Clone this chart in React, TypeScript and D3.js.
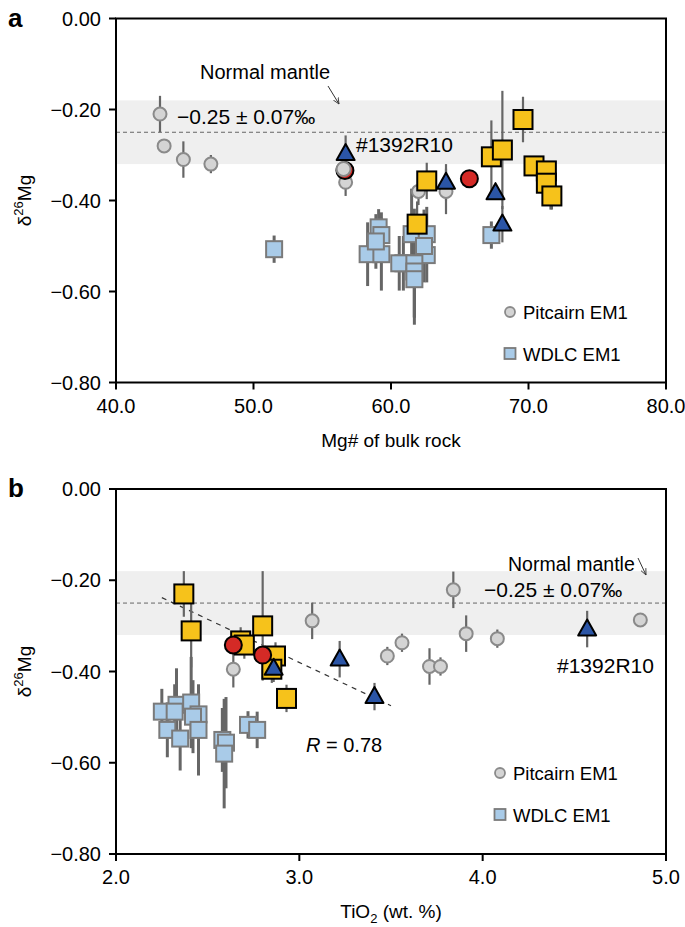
import React from "react";
import * as d3 from "d3";

// ---------- Panel a data (x: Mg# of bulk rock, y: δ26Mg, e: 2SD) ----------
const aPitX = [43.2, 43.5, 44.9, 46.9, 56.7, 62.0, 64.0, 71.6];
const aPitY = [-0.21, -0.28, -0.31, -0.32, -0.36, -0.38, -0.38, -0.39];
const aPitE = [0.04, 0.0, 0.04, 0.02, 0.03, 0.03, 0.05, 0.03];

const aWdX = [51.5, 59.1, 59.3, 58.3, 59.3, 58.9, 60.9, 61.5, 62.6, 62.6, 60.6, 61.7, 61.7, 61.7, 62.4, 67.3];
const aWdY = [-0.507, -0.459, -0.476, -0.518, -0.518, -0.49, -0.538, -0.474, -0.474, -0.52, -0.538, -0.538, -0.556, -0.573, -0.5, -0.476];
const aWdE = [0.03, 0.04, 0.05, 0.07, 0.08, 0.06, 0.06, 0.1, 0.06, 0.06, 0.06, 0.12, 0.1, 0.1, 0.08, 0.03];

const aRedX = [56.65, 65.7];
const aRedY = [-0.334, -0.352];

const aGreyOnRedX = [56.55];
const aGreyOnRedY = [-0.331];

const aYelX = [62.6, 61.9, 67.3, 68.1, 69.6, 70.4, 71.3, 71.3, 71.7];
const aYelY = [-0.357, -0.452, -0.304, -0.289, -0.222, -0.324, -0.335, -0.362, -0.39];
const aYelE = [0.04, 0.05, 0.08, 0.13, 0.05, 0.02, 0.02, 0.02, 0.03];

const aTriX = [56.7, 64.0, 67.6, 68.1];
const aTriY = [-0.297, -0.36, -0.383, -0.452];
const aTriE = [0.04, 0.04, 0.0, 0.04];

// ---------- Panel b data (x: TiO2 wt.%) ----------
const bPitX = [3.84, 3.07, 3.48, 3.56, 3.71, 3.77, 3.91, 4.08, 4.86, 2.64];
const bPitY = [-0.221, -0.289, -0.366, -0.337, -0.389, -0.389, -0.317, -0.328, -0.287, -0.395];
const bPitE = [0.04, 0.04, 0.02, 0.02, 0.04, 0.02, 0.04, 0.02, 0.0, 0.04];

const bWdX = [2.25, 2.33, 2.32, 2.28, 2.35, 2.41, 2.45, 2.42, 2.45, 2.58, 2.6, 2.59, 2.72, 2.77];
const bWdY = [-0.488, -0.473, -0.488, -0.528, -0.547, -0.468, -0.494, -0.499, -0.528, -0.55, -0.556, -0.58, -0.517, -0.528];
const bWdE = [0.05, 0.08, 0.06, 0.06, 0.07, 0.1, 0.06, 0.08, 0.1, 0.07, 0.1, 0.12, 0.03, 0.04];

const bRedX = [2.64, 2.8];
const bRedY = [-0.342, -0.364];

const bYelX = [2.37, 2.41, 2.68, 2.7, 2.8, 2.87, 2.85, 2.93];
const bYelY = [-0.23, -0.311, -0.333, -0.342, -0.3, -0.366, -0.395, -0.459];
const bYelE = [0.05, 0.08, 0.03, 0.03, 0.12, 0.03, 0.03, 0.03];

const bTriX = [4.57, 3.22, 3.41, 2.86];
const bTriY = [-0.307, -0.373, -0.455, -0.393];
const bTriE = [0.04, 0.04, 0.03, 0.03];

const bFitX = [2.25, 3.5];
const bFitY = [-0.238, -0.475];

const yTicks = [0, -0.2, -0.4, -0.6, -0.8];
const aXTicks = [40, 50, 60, 70, 80];
const bXTicks = [2, 3, 4, 5];

const mantleMean = -0.25;
const mantleSd = 0.07;

const FONT = "'Liberation Sans', Arial, Helvetica, sans-serif";
const C = {
  grey: "#d4d4d4",
  greyStroke: "#8a8a8a",
  err: "#666",
  wdlc: "#a9cbe8",
  wdlcStroke: "#7a7a7a",
  yel: "#f6c21b",
  blue: "#2b55a6",
  red: "#d42a26",
  band: "#efefef",
};

type Pts = { x: number[]; y: number[]; e?: number[] };

function Panel(props: {
  top: number;
  bottom: number;
  xDomain: [number, number];
  xTicks: number[];
  xFmt: (v: number) => string;
  label: string;
  xTitle: React.ReactNode;
  pit: Pts;
  wd: Pts;
  red: Pts;
  greyOnRed?: Pts;
  yel: Pts;
  tri: Pts;
  fit?: Pts;
  normalPos: [number, number];
  normalSize: number;
  arrow: [number, number, number, number];
  meanPos: [number, number];
  idPos: [number, number];
  legendPos: [number, number];
  rPos?: [number, number];
}) {
  const left = 116,
    right = 666;
  const top = props.top,
    bottom = props.bottom;
  const x = d3.scaleLinear().domain(props.xDomain).range([left, right]);
  const y = d3.scaleLinear().domain([-0.8, 0]).range([bottom, top]);
  const errBars = (p: Pts, key: string, w = 2.2) =>
    p.x.map((xv, i) =>
      p.e && p.e[i] > 0 ? (
        <line
          key={key + i}
          x1={x(xv)}
          x2={x(xv)}
          y1={y(p.y[i] + p.e[i])}
          y2={y(p.y[i] - p.e[i])}
          stroke={C.err}
          strokeWidth={w}
        />
      ) : null
    );
  const sq = (p: Pts, key: string, s: number, fill: string, stroke: string, sw: number) =>
    p.x.map((xv, i) => (
      <rect
        key={key + i}
        x={x(xv) - s / 2}
        y={y(p.y[i]) - s / 2}
        width={s}
        height={s}
        fill={fill}
        stroke={stroke}
        strokeWidth={sw}
      />
    ));
  const circ = (p: Pts, key: string, r: number, fill: string, stroke: string, sw: number) =>
    p.x.map((xv, i) => (
      <circle key={key + i} cx={x(xv)} cy={y(p.y[i])} r={r} fill={fill} stroke={stroke} strokeWidth={sw} />
    ));
  const tri = (p: Pts, key: string) =>
    p.x.map((xv, i) => {
      const cx = x(xv),
        cy = y(p.y[i]);
      const h = 16,
        w = 18;
      return (
        <path
          key={key + i}
          d={`M${cx},${cy - h * 0.6}L${cx + w / 2},${cy + h * 0.4}L${cx - w / 2},${cy + h * 0.4}Z`}
          fill={C.blue}
          stroke="#000"
          strokeWidth={2}
          strokeLinejoin="round"
        />
      );
    });
  const line = d3
    .line<number>()
    .x((d) => x(d))
    .y((_, i) => y(props.fit ? props.fit.y[i] : 0));

  return (
    <g fontFamily={FONT}>
      <text x={8} y={top + 8} fontSize={26} fontWeight="bold">
        {props.label}
      </text>
      {/* mantle band */}
      <rect x={left} y={y(mantleMean + mantleSd)} width={right - left} height={y(mantleMean - mantleSd) - y(mantleMean + mantleSd)} fill={C.band} />
      <line x1={left} x2={right} y1={y(mantleMean)} y2={y(mantleMean)} stroke="#666" strokeWidth={1} strokeDasharray="4,3" />
      {props.fit && (
        <path d={line(props.fit.x) || ""} fill="none" stroke="#333" strokeWidth={1.2} strokeDasharray="5,5" />
      )}
      {/* error bars */}
      {errBars(props.wd, "we", 3)}
      {errBars(props.pit, "pe")}
      {errBars(props.yel, "ye")}
      {errBars(props.tri, "te")}
      {/* markers */}
      {sq(props.wd, "wd", 16, C.wdlc, C.wdlcStroke, 2)}
      {circ(props.pit, "pit", 6.5, C.grey, C.greyStroke, 2)}
      {sq(props.yel, "yel", 19, C.yel, "#000", 2)}
      {circ(props.red, "red", 8.5, C.red, "#000", 2)}
      {props.greyOnRed && circ(props.greyOnRed, "gor", 7, C.grey, C.greyStroke, 2)}
      {tri(props.tri, "tri")}
      {/* annotations */}
      <text x={props.normalPos[0]} y={props.normalPos[1]} fontSize={props.normalSize}>
        Normal mantle
      </text>
      <defs>
        <marker id={"ah" + props.label} viewBox="0 0 10 10" refX="9" refY="5" markerWidth="7" markerHeight="7" orient="auto">
          <path d="M0,1L9,5L0,9" fill="none" stroke="#333" strokeWidth={1.2} />
        </marker>
      </defs>
      <line
        x1={props.arrow[0]}
        y1={props.arrow[1]}
        x2={props.arrow[2]}
        y2={props.arrow[3]}
        stroke="#333"
        strokeWidth={1}
        markerEnd={`url(#ah${props.label})`}
      />
      <text x={props.meanPos[0]} y={props.meanPos[1]} fontSize={21}>
        −0.25 ± 0.07‰
      </text>
      <text x={props.idPos[0]} y={props.idPos[1]} fontSize={21}>
        #1392R10
      </text>
      {props.rPos && (
        <text x={props.rPos[0]} y={props.rPos[1]} fontSize={20}>
          <tspan fontStyle="italic">R</tspan> = 0.78
        </text>
      )}
      {/* legend */}
      <circle cx={props.legendPos[0]} cy={props.legendPos[1]} r={5} fill={C.grey} stroke={C.greyStroke} strokeWidth={1.8} />
      <text x={props.legendPos[0] + 13} y={props.legendPos[1] + 6.5} fontSize={18.5}>
        Pitcairn EM1
      </text>
      <rect x={props.legendPos[0] - 5.5} y={props.legendPos[1] + 36} width={11} height={11} fill={C.wdlc} stroke={C.wdlcStroke} strokeWidth={1.8} />
      <text x={props.legendPos[0] + 13} y={props.legendPos[1] + 48.5} fontSize={18.5}>
        WDLC EM1
      </text>
      {/* frame & axes */}
      <rect x={left} y={top} width={right - left} height={bottom - top} fill="none" stroke="#000" strokeWidth={2} />
      {yTicks.map((t) => (
        <g key={"yt" + t}>
          <line x1={left - 7} x2={left} y1={y(t)} y2={y(t)} stroke="#000" strokeWidth={2} />
          <text x={left - 15} y={y(t) + 7} fontSize={20} textAnchor="end">
            {t === 0 ? "0.00" : "−" + Math.abs(t).toFixed(2)}
          </text>
        </g>
      ))}
      {props.xTicks.map((t) => (
        <g key={"xt" + t}>
          <line x1={x(t)} x2={x(t)} y1={bottom} y2={bottom + 7} stroke="#000" strokeWidth={2} />
          <text x={x(t)} y={bottom + 30} fontSize={20} textAnchor="middle">
            {props.xFmt(t)}
          </text>
        </g>
      ))}
      <text x={(left + right) / 2} y={bottom + 64} fontSize={19} textAnchor="middle">
        {props.xTitle}
      </text>
      <text transform={`translate(31,${(top + bottom) / 2}) rotate(-90)`} fontSize={19} textAnchor="middle">
        δ<tspan dy={-8} fontSize={13}>26</tspan>
        <tspan dy={8}>Mg</tspan>
      </text>
    </g>
  );
}

export default function App() {
  const f1 = (v: number) => v.toFixed(1);
  return (
    <svg width={685} height={927} style={{ display: "block", position: "absolute", left: 0, top: 0, background: "#fff" }}>
      <rect width={685} height={927} fill="#fff" />
      <Panel
        top={18.5}
        bottom={382.5}
        xDomain={[40, 80]}
        xTicks={aXTicks}
        xFmt={f1}
        label="a"
        xTitle="Mg# of bulk rock"
        pit={{ x: aPitX, y: aPitY, e: aPitE }}
        wd={{ x: aWdX, y: aWdY, e: aWdE }}
        red={{ x: aRedX, y: aRedY }}
        greyOnRed={{ x: aGreyOnRedX, y: aGreyOnRedY }}
        yel={{ x: aYelX, y: aYelY, e: aYelE }}
        tri={{ x: aTriX, y: aTriY, e: aTriE }}
        normalPos={[200, 79]}
        normalSize={20}
        arrow={[328, 86, 339, 104]}
        meanPos={[177, 124]}
        idPos={[356, 152]}
        legendPos={[510, 312]}
      />
      <Panel
        top={489}
        bottom={854}
        xDomain={[2, 5]}
        xTicks={bXTicks}
        xFmt={f1}
        label="b"
        xTitle={
          <>
            TiO<tspan dy={5} fontSize={13}>2</tspan>
            <tspan dy={-5}> (wt. %)</tspan>
          </>
        }
        pit={{ x: bPitX, y: bPitY, e: bPitE }}
        wd={{ x: bWdX, y: bWdY, e: bWdE }}
        red={{ x: bRedX, y: bRedY }}
        yel={{ x: bYelX, y: bYelY, e: bYelE }}
        tri={{ x: bTriX, y: bTriY, e: bTriE }}
        fit={{ x: bFitX, y: bFitY }}
        normalPos={[508, 571]}
        normalSize={19.5}
        arrow={[638, 558, 646, 575]}
        meanPos={[484, 597]}
        idPos={[557, 673]}
        legendPos={[500, 773]}
        rPos={[306, 752]}
      />
    </svg>
  );
}
